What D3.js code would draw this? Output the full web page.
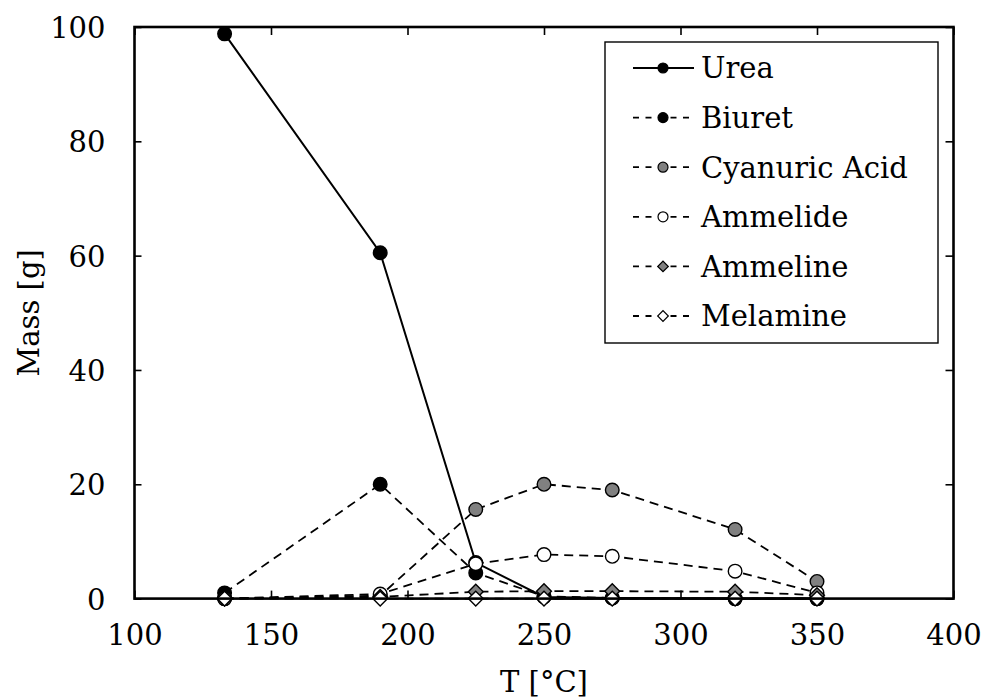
<!DOCTYPE html>
<html><head><meta charset="utf-8">
<script src="https://cdn.jsdelivr.net/npm/d3@7"></script>
<style>body{margin:0;background:#fff}svg{display:block}text{font-family:"DejaVu Serif",serif;fill:#000}</style>
</head><body><svg id="c" width="981" height="698"></svg>
<script>
const temps = [133, 190, 225, 250, 275, 320, 350];
const urea = [98.8, 60.5, 6.3, 0.3, 0.1, 0, 0];
const biuret = [1.0, 20.0, 4.5, 0.4, 0.1, 0, 0];
const cyanuric = [0, 0.5, 15.6, 20.0, 19.0, 12.1, 3.0];
const ammelide = [0, 0.8, 6.1, 7.7, 7.4, 4.8, 1.0];
const ammeline = [0, 0.3, 1.2, 1.3, 1.3, 1.2, 0.6];
const melamine = [0, 0, 0, 0, 0, 0, 0];
const seriesNames = ["Urea", "Biuret", "Cyanuric Acid", "Ammelide", "Ammeline", "Melamine"];
const xTicks = [100, 150, 200, 250, 300, 350, 400];
const yTicks = [0, 20, 40, 60, 80, 100];

const series = [
  {name: seriesNames[0], v: urea, shape: "circle", fill: "#000", dash: null},
  {name: seriesNames[1], v: biuret, shape: "circle", fill: "#000", dash: "9,6"},
  {name: seriesNames[2], v: cyanuric, shape: "circle", fill: "#808080", dash: "9,6"},
  {name: seriesNames[3], v: ammelide, shape: "circle", fill: "#fff", dash: "9,6"},
  {name: seriesNames[4], v: ammeline, shape: "diamond", fill: "#808080", dash: "9,6"},
  {name: seriesNames[5], v: melamine, shape: "diamond", fill: "#fff", dash: "9,6"}
];

const L = 134.5, R = 953.5, T = 27, B = 598.6;
const svg = d3.select("#c");
const x = d3.scaleLinear().domain([100, 400]).range([L, R]);
const y = d3.scaleLinear().domain([0, 100]).range([B, T]);
const fs = 29;

// axes
const gx = svg.append("g").attr("transform", `translate(0,${B})`)
  .call(d3.axisBottom(x).tickValues(xTicks).tickSize(-8).tickPadding(26).tickFormat(d3.format("d")));
const gxt = svg.append("g").attr("transform", `translate(0,${T})`)
  .call(d3.axisTop(x).tickValues(xTicks).tickSize(-8).tickFormat(""));
const gy = svg.append("g").attr("transform", `translate(${L},0)`)
  .call(d3.axisLeft(y).tickValues(yTicks).tickSize(-7).tickPadding(29).tickFormat(d3.format("d")));
const gyr = svg.append("g").attr("transform", `translate(${R},0)`)
  .call(d3.axisRight(y).tickValues(yTicks).tickSize(-8).tickFormat(""));
[gx, gxt, gy, gyr].forEach(g => {
  g.select(".domain").remove();
  g.selectAll(".tick line").attr("stroke", "#000").attr("stroke-width", 1.6);
  g.selectAll(".tick text").style("font-family", '"DejaVu Serif", serif').attr("font-size", fs).attr("fill", "#000");
});
gy.selectAll(".tick text").attr("dy", "0.36em");

svg.append("text").attr("x", (L + R) / 2).attr("y", 692).attr("text-anchor", "middle").attr("font-size", fs).text("T [°C]");
svg.append("text").attr("transform", `translate(39,${(T + B) / 2}) rotate(-90)`).attr("text-anchor", "middle").attr("font-size", fs).text("Mass [g]");

const sym = s => s === "circle" ? d3.symbol(d3.symbolCircle, Math.PI * 6.8 * 6.8) : d3.symbol(d3.symbolSquare, 10.5 * 10.5);
const line = d3.line().x((d, i) => x(temps[i])).y(d => y(d));
const plot = svg.append("g");

series.forEach(s => {
  plot.append("path").datum(s.v).attr("d", line).attr("fill", "none").attr("stroke", "#000")
    .attr("stroke-width", s.dash ? 1.8 : 2).attr("stroke-dasharray", s.dash);
  plot.selectAll(null).data(s.v).enter().append("path")
    .attr("d", sym(s.shape)())
    .attr("transform", (d, i) => `translate(${x(temps[i])},${y(d)})` + (s.shape === "diamond" ? " rotate(45)" : ""))
    .attr("fill", s.fill).attr("stroke", "#000").attr("stroke-width", 1.4);
});
// heavy zero line
plot.append("line").attr("x1", x(temps[3])).attr("x2", x(temps[6])).attr("y1", y(0)).attr("y2", y(0)).attr("stroke", "#000").attr("stroke-width", 2).lower();

// frame
svg.append("rect").attr("x", L).attr("y", T).attr("width", R - L).attr("height", B - T)
  .attr("fill", "none").attr("stroke", "#000").attr("stroke-width", 2.6);

// legend
const lg = svg.append("g");
lg.append("rect").attr("x", 605).attr("y", 42).attr("width", 333).attr("height", 301)
  .attr("fill", "#fff").attr("stroke", "#000").attr("stroke-width", 1.4);
const legSym = s => s === "circle" ? d3.symbol(d3.symbolCircle, Math.PI * 5 * 5) : d3.symbol(d3.symbolSquare, 7.5 * 7.5);
series.forEach((s, i) => {
  const cy = 68 + i * 49.6;
  lg.append("line").attr("x1", 633).attr("x2", 694).attr("y1", cy).attr("y2", cy)
    .attr("stroke", "#000").attr("stroke-width", 1.8).attr("stroke-dasharray", s.dash ? "6,6.5" : null);
  lg.append("path").attr("d", legSym(s.shape)())
    .attr("transform", `translate(663,${cy})` + (s.shape === "diamond" ? " rotate(45)" : ""))
    .attr("fill", s.fill).attr("stroke", "#000").attr("stroke-width", 1.2);
  lg.append("text").attr("x", 701).attr("y", cy).attr("dy", "0.36em").attr("font-size", fs).text(s.name);
});
</script></body></html>
